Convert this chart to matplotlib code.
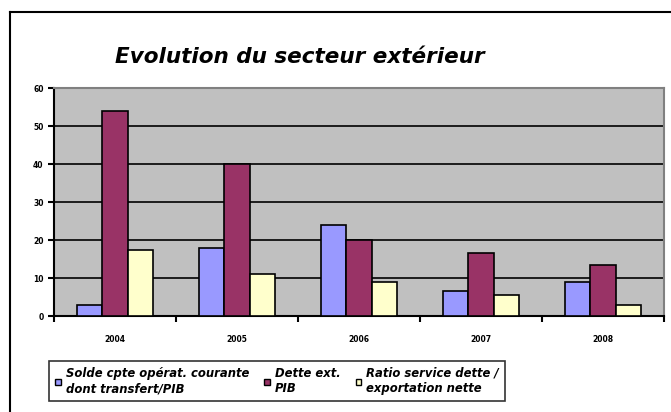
import matplotlib.pyplot as plt
import numpy as np
from matplotlib.lines import Line2D
from matplotlib.patches import Patch

years = ['2004', '2005', '2006', '2007', '2008']
solde = [3, 18, 24, 6.5, 9]
dette = [54, 40, 20, 16.5, 13.5]
ratio = [17.5, 11, 9, 5.5, 3]
labels = ['Solde cpte opérat. courante\ndont transfert/PIB', 'Dette ext.\nPIB',
          'Ratio service dette /\nexportation nette']
colors = ['#9999FF', '#993366', '#FFFFCC']

fig = plt.figure(figsize=(6.71, 4.12), dpi=100)
ax = fig.add_axes([54/671, 1 - 316/412, 610/671, 228/412])
ax.set_facecolor('#C0C0C0')

x = np.arange(len(years))
w = 0.21
for i, (vals, c) in enumerate(zip([solde, dette, ratio], colors)):
    ax.bar(x + (i - 1) * w, vals, w, color=c, edgecolor='black', linewidth=1.2, zorder=3)

ax.set_xlim(-0.5, len(years) - 0.5)
ax.set_ylim(0, 60)
ax.set_yticks(range(0, 61, 10))
ax.yaxis.grid(True, color='black', linewidth=1.2, zorder=1)
ax.set_xticks(x)
ax.set_xticklabels(years, fontsize=5.5, fontweight='bold')
ax.set_xticks(np.arange(-0.5, len(years)), minor=True)
ax.tick_params(axis='x', which='major', length=0, pad=14)
ax.tick_params(axis='x', which='minor', length=4, width=1.5)
ax.tick_params(axis='y', labelsize=5.5, length=4, width=1.5)
for lbl in ax.get_yticklabels():
    lbl.set_fontweight('bold')
for s in ['top', 'right']:
    ax.spines[s].set_color('#808080')
    ax.spines[s].set_linewidth(1.5)
for s in ['left', 'bottom']:
    ax.spines[s].set_linewidth(1.5)

fig.text(115/671, 1 - 57/412, 'Evolution du secteur extérieur', fontsize=15.5,
         fontweight='bold', fontstyle='italic', va='center', ha='left')

# outer chart frame (cut off at right and bottom)
fig.add_artist(Line2D([10/671, 10/671], [0, 1 - 12/412], color='black', lw=1.5))
fig.add_artist(Line2D([10/671, 1], [1 - 12/412, 1 - 12/412], color='black', lw=1.5))

handles = [Patch(facecolor=c, edgecolor='black', linewidth=1) for c in colors]
leg = fig.legend(handles, labels, ncol=3, loc='center', bbox_to_anchor=(277/671, 1 - 381/412),
                 frameon=True, fancybox=False, edgecolor='black',
                 prop={'size': 8.4, 'style': 'italic', 'weight': 'bold'},
                 handlelength=0.5, handleheight=0.5, handletextpad=0.4,
                 columnspacing=1.3, borderpad=0.5, labelspacing=0.2)
leg.get_frame().set_linewidth(1.2)

fig.savefig('out.png', dpi=100)
